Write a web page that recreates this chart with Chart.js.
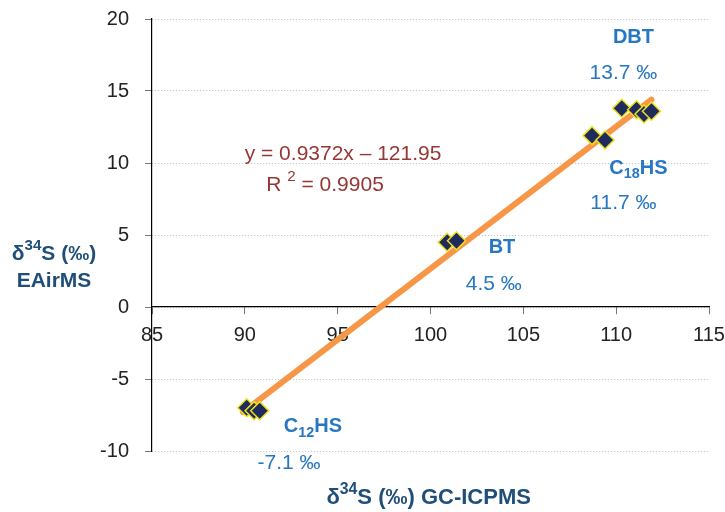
<!DOCTYPE html>
<html>
<head>
<meta charset="utf-8">
<script src="https://cdn.jsdelivr.net/npm/chart.js@4/dist/chart.umd.min.js"></script>
<style>
  body { margin: 0; background: #fff; }
</style>
</head>
<body>
<canvas id="myChart" width="725" height="512"></canvas>
<script>
// measured points, d34S GC-ICPMS (x) vs EAirMS (y)
const gcIcpms = [90.1, 90.5, 90.8, 100.9, 101.4, 108.7, 109.4, 110.3, 111.1, 111.5, 111.9];
const eairms  = [-7.0, -7.2, -7.2, 4.5, 4.6, 11.9, 11.6, 13.8, 13.7, 13.4, 13.6];

// trend line ends
const trendX = [89.9, 111.9];
const trendY = [-7.3, 14.4];

const xTicks = [85, 90, 95, 100, 105, 110, 115];
const yTicks = [-10, -5, 0, 5, 10, 15, 20];

const FONT = "'Liberation Sans', Arial, sans-serif";
const BLUE = '#2777C2';
const RED = '#953735';
const NAVY = '#1F4E79';

const points = gcIcpms.map((x, i) => ({x: x, y: eairms[i]}));
const trend = trendX.map((x, i) => ({x: x, y: trendY[i]}));

// draws text with sub/superscript parts, centred on cx,cy
function drawRich(ctx, parts, cx, cy, size, bold, color) {
  const w = bold ? 'bold ' : '';
  let total = 0;
  parts.forEach(p => {
    const s = (p.sub || p.sup) ? size * 0.72 : size;
    ctx.font = w + s + 'px ' + FONT;
    p.w = ctx.measureText(p.t).width;
    total += p.w;
  });
  let x = cx - total / 2;
  ctx.fillStyle = color;
  ctx.textBaseline = 'middle';
  ctx.textAlign = 'left';
  parts.forEach(p => {
    const s = (p.sub || p.sup) ? size * 0.72 : size;
    ctx.font = w + s + 'px ' + FONT;
    let dy = 0;
    if (p.sub) dy = size * 0.3;
    if (p.sup) dy = -size * 0.38;
    ctx.fillText(p.t, x, cy + dy);
    x += p.w;
  });
}

// labels anchored in data units
const labelsPlugin = {
  id: 'labels',
  afterDraw(chart) {
    const ctx = chart.ctx;
    const xs = chart.scales.x, ys = chart.scales.y;
    const at = (x, y) => [xs.getPixelForValue(x), ys.getPixelForValue(y)];
    const put = (parts, x, y, size, bold, color) => {
      const p = at(x, y);
      drawRich(ctx, parts, p[0], p[1], size, bold, color);
    };
    ctx.save();
    put([{t: 'DBT'}], 110.93, 18.75, 20, true, BLUE);
    put([{t: '13.7 ‰'}], 110.39, 16.25, 21, false, BLUE);
    put([{t: 'C'}, {t: '18', sub: true}, {t: 'HS'}], 111.2, 9.65, 20, true, BLUE);
    put([{t: '11.7 ‰'}], 110.39, 7.22, 21, false, BLUE);
    put([{t: 'BT'}], 103.85, 4.1, 20, true, BLUE);
    put([{t: '4.5 ‰'}], 103.41, 1.6, 21, false, BLUE);
    put([{t: 'C'}, {t: '12', sub: true}, {t: 'HS'}], 93.67, -8.33, 20, true, BLUE);
    put([{t: '-7.1 ‰'}], 92.38, -10.83, 21, false, BLUE);
    put([{t: 'y = 0.9372x – 121.95'}], 95.29, 10.62, 21, false, RED);
    put([{t: 'R '}, {t: '2', sup: true}, {t: ' = 0.9905'}], 94.32, 8.47, 21, false, RED);

    // axis titles
    const a = chart.chartArea;
    drawRich(ctx, [{t: 'δ'}, {t: '34', sup: true}, {t: 'S (‰)'}], a.left - 98, ys.getPixelForValue(3.7), 21, true, NAVY);
    drawRich(ctx, [{t: 'EAirMS'}], a.left - 98, ys.getPixelForValue(1.8), 21, true, NAVY);
    drawRich(ctx, [{t: 'δ'}, {t: '34', sup: true}, {t: 'S (‰) GC-ICPMS'}], xs.getPixelForValue(99.9), a.bottom + 47, 22, true, NAVY);
    ctx.restore();
  }
};

const config = {
  type: 'scatter',
  data: {
    datasets: [
      {
        label: 'samples',
        data: points,
        pointStyle: 'rectRot',
        pointRadius: 9,
        pointHoverRadius: 9,
        backgroundColor: '#1F2A5E',
        borderColor: '#EEE21C',
        borderWidth: 1.5
      },
      {
        label: 'trend',
        type: 'line',
        data: trend,
        borderColor: '#F79646',
        borderWidth: 6,
        borderCapStyle: 'round',
        pointRadius: 0,
        fill: false
      }
    ]
  },
  options: {
    responsive: false,
    animation: false,
    layout: { padding: { left: 0, top: 19, right: 16, bottom: 61 } },
    plugins: {
      legend: { display: false },
      tooltip: { enabled: false }
    },
    scales: {
      x: {
        type: 'linear',
        min: 85, max: 115,
        position: { y: 0 },
        afterBuildTicks: s => { s.ticks = xTicks.map(v => ({value: v})); },
        afterFit: s => { s.paddingLeft = 0; s.paddingRight = 0; },
        ticks: { font: { family: FONT, size: 20 }, color: '#222', padding: 9 },
        grid: { drawOnChartArea: false, tickLength: 7, tickColor: '#777' },
        border: { color: '#000', width: 1.2 }
      },
      y: {
        type: 'linear',
        min: -10, max: 20,
        position: 'left',
        afterFit: s => { s.width = 152; s.paddingTop = 0; s.paddingBottom = 0; },
        afterBuildTicks: s => { s.ticks = yTicks.map(v => ({value: v})); },
        ticks: { font: { family: FONT, size: 20 }, color: '#222', padding: 16 },
        grid: { color: '#BBBBBB', lineWidth: 1, tickLength: 7, tickColor: '#777', tickBorderDash: [] },
        border: { color: '#000', width: 1.2, dash: [1, 2] }
      }
    }
  },
  plugins: [labelsPlugin]
};

const myChart = new Chart(document.getElementById('myChart'), config);
</script>
</body>
</html>
